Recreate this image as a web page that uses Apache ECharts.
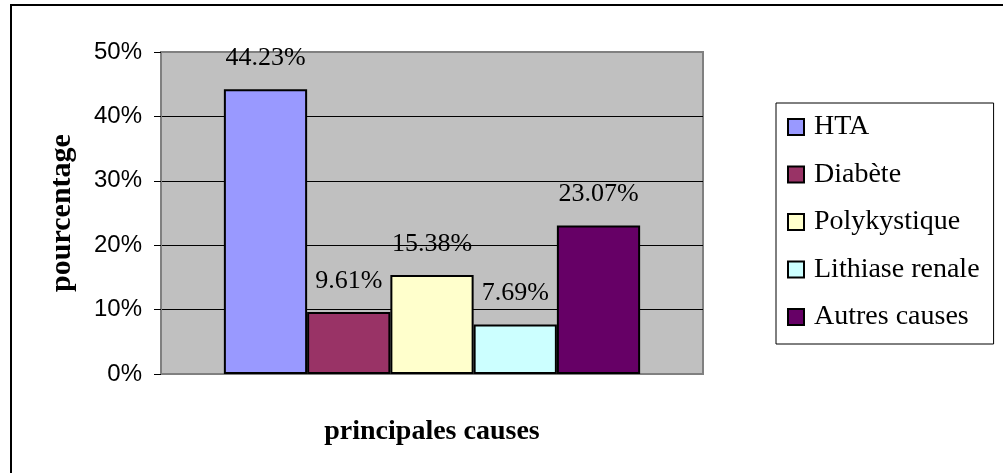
<!DOCTYPE html>
<html>
<head>
<meta charset="utf-8">
<script src="https://cdn.jsdelivr.net/npm/echarts@6/dist/echarts.min.js"></script>
<style>
  html, body { margin: 0; padding: 0; background: #fff; }
  #chart { width: 1003px; height: 473px; }
</style>
</head>
<body>
<div id="chart"></div>
<script>
// Principal causes, share in percent
const causes = ['HTA', 'Diabète', 'Polykystique', 'Lithiase renale', 'Autres causes'];
const percentages = [44.23, 9.61, 15.38, 7.69, 23.07];
const barColors = ['#9999FF', '#993366', '#FFFFCC', '#CCFFFF', '#660066'];
const yTicks = [0, 10, 20, 30, 40, 50];

const serif = '"Liberation Serif", "Times New Roman", serif';
const sans = '"Liberation Sans", Arial, sans-serif';

const chart = echarts.init(document.getElementById('chart'), null, { renderer: 'canvas' });

const series = causes.map((name, i) => ({
  name: name,
  type: 'bar',
  data: [percentages[i]],
  barGap: '0%',
  barCategoryGap: '23.2%',
  itemStyle: { color: barColors[i], borderColor: '#000', borderWidth: 2 },
  label: {
    show: true,
    position: 'top',
    distance: 18,
    color: '#000',
    fontFamily: serif,
    fontSize: 26,
    formatter: p => p.value.toFixed(2) + '%'
  },
  emphasis: { disabled: true },
  animation: false
}));

chart.setOption({
  animation: false,
  backgroundColor: '#fff',
  graphic: [{
    type: 'rect',
    shape: { x: 11, y: 5, width: 1100, height: 600 },
    style: { fill: 'none', stroke: '#000', lineWidth: 2 },
    silent: true
  }],
  grid: {
    left: 161, top: 52, right: 300, bottom: 99,
    show: true,
    backgroundColor: '#C0C0C0',
    borderColor: '#808080',
    borderWidth: 2
  },
  legend: {
    orient: 'vertical',
    left: 776, top: 103,
    padding: [10, 14, 13, 11],
    backgroundColor: '#fff',
    borderColor: '#000',
    borderWidth: 1,
    itemWidth: 16, itemHeight: 16,
    itemGap: 19.5,
    icon: 'rect',
    itemStyle: { borderColor: '#000', borderWidth: 2 },
    textStyle: {
      fontFamily: serif, fontSize: 28, color: '#000',
      lineHeight: 28, padding: [0, 0, 0, 5]
    },
    data: causes
  },
  xAxis: {
    type: 'category',
    data: [''],
    name: 'principales causes',
    nameLocation: 'middle',
    nameGap: 44,
    nameTextStyle: { fontFamily: serif, fontSize: 28, fontWeight: 'bold', color: '#000' },
    axisLine: { lineStyle: { color: '#808080', width: 2 } },
    axisTick: { show: false },
    axisLabel: { show: false },
    splitLine: { show: false }
  },
  yAxis: {
    type: 'value',
    min: yTicks[0], max: yTicks[yTicks.length - 1], interval: 10,
    name: 'pourcentage',
    nameLocation: 'middle',
    nameRotate: 90,
    nameGap: 84,
    nameTextStyle: { fontFamily: serif, fontSize: 30, fontWeight: 'bold', color: '#000' },
    axisLine: { show: true, lineStyle: { color: '#808080', width: 2 } },
    axisTick: { show: true, length: 7, lineStyle: { color: '#000', width: 1 } },
    axisLabel: {
      margin: 19,
      fontFamily: sans, fontSize: 24, color: '#000',
      formatter: '{value}%'
    },
    splitLine: {
      show: true, showMinLine: false, showMaxLine: false,
      lineStyle: { color: '#000', width: 1 }
    }
  },
  series: series
});
</script>
</body>
</html>
